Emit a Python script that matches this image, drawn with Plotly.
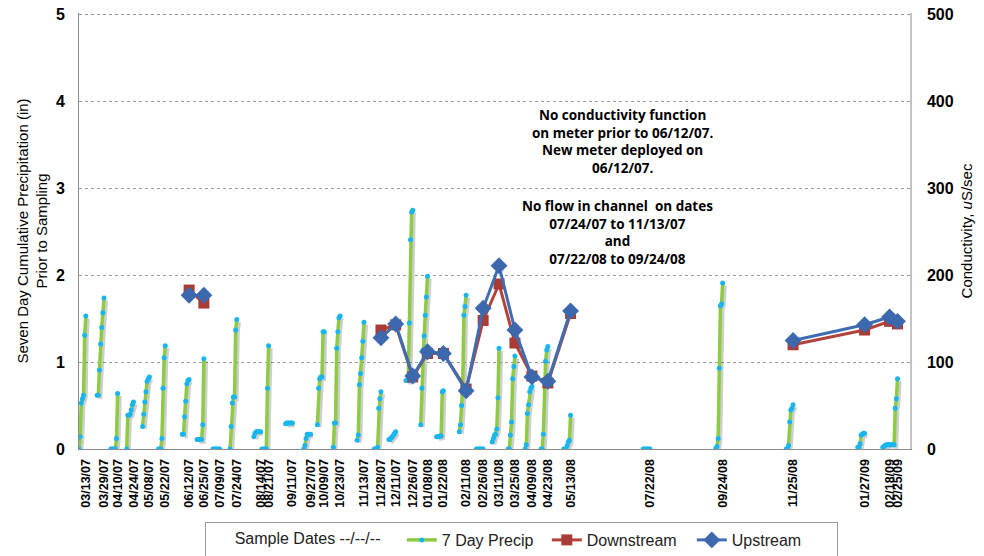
import pandas as pd
import plotly.graph_objects as go

# ---------------- data ----------------
sample_labels = ["03/13/07", "03/29/07", "04/10/07", "04/24/07", "05/08/07", "05/22/07",
                 "06/12/07", "06/25/07", "07/09/07", "07/24/07", "08/14/07", "08/21/07",
                 "09/11/07", "09/27/07", "10/09/07", "10/23/07", "11/13/07", "11/28/07",
                 "12/11/07", "12/26/07", "01/08/08", "01/22/08", "02/11/08", "02/26/08",
                 "03/11/08", "03/25/08", "04/09/08", "04/23/08", "05/13/08", "07/22/08",
                 "09/24/08", "11/25/08", "01/27/09", "02/18/09", "02/25/09"]

# cumulative 7-day precipitation (in), one value per sample, for each day before sampling
precip_day_minus6 = [0, 0.62, 0, 0, 0.26, 0, 0.17, 0.11, 0, 0, 0.14, 0, 0.29, 0, 0.28, 0.02, 0.10, 0,
                     0.11, 0.79, 0.28, 0.14, 0.20, 0, 0.08, 0, 0, 0, 0, 0, 0.01, 0, 0.02, 0.02, 0.05]
precip_day_minus5 = [0.14, 0.62, 0, 0.39, 0.40, 0, 0.17, 0.11, 0, 0.26, 0.18, 0, 0.30, 0.04, 0.70, 0.30, 0.16, 0,
                     0.11, 0.79, 0.70, 0.14, 0.28, 0, 0.12, 0, 0.05, 0, 0, 0, 0.03, 0.01, 0.02, 0.03, 0.05]
precip_day_minus4 = [0.53, 0.91, 0, 0.39, 0.54, 0, 0.37, 0.11, 0, 0.53, 0.20, 0, 0.30, 0.12, 0.81, 0.30, 0.74, 0,
                     0.13, 0.79, 1.14, 0.14, 0.50, 0, 0.16, 0.16, 0.41, 0.17, 0, 0, 0.12, 0.04, 0.06, 0.04, 0.05]
precip_day_minus3 = [0.58, 1.21, 0, 0.40, 0.66, 0.12, 0.55, 0.11, 0, 0.60, 0.20, 0, 0.30, 0.17, 0.83, 1.16, 0.87, 0.02,
                     0.14, 1.45, 1.30, 0.15, 0.72, 0, 0.17, 0.31, 0.51, 0.78, 0.04, 0, 0.93, 0.31, 0.16, 0.05, 0.05]
precip_day_minus2 = [0.62, 1.40, 0, 0.45, 0.78, 0.70, 0.75, 0.11, 0, 0.60, 0.20, 0, 0.30, 0.17, 0.83, 1.35, 1.05, 0.47,
                     0.16, 2.41, 1.54, 0.15, 1.54, 0, 0.23, 0.81, 0.66, 1.01, 0.08, 0, 1.65, 0.45, 0.17, 0.05, 0.47]
precip_day_minus1 = [1.31, 1.57, 0.12, 0.51, 0.81, 1.05, 0.79, 0.28, 0, 1.37, 0.20, 0.70, 0.30, 0.17, 1.35, 1.51, 1.24, 0.58,
                     0.18, 2.73, 1.75, 0.66, 1.64, 0, 0.59, 0.95, 0.70, 1.14, 0.10, 0, 1.67, 0.47, 0.18, 0.05, 0.58]
precip_day_0 = [1.53, 1.74, 0.64, 0.54, 0.83, 1.19, 0.80, 1.04, 0, 1.49, 0.20, 1.19, 0.30, 0.17, 1.35, 1.53, 1.46, 0.66,
                0.20, 2.75, 1.99, 0.67, 1.77, 0, 1.16, 1.07, 0.72, 1.18, 0.39, 0, 1.91, 0.51, 0.18, 0.05, 0.81]

# conductivity (uS/sec); None = not measured / no flow
downstream = [None, None, None, None, None, None, 183, 168, None, None, None, None, None, None, None, None, None,
              137, 143, 83, 110, 110, 69, 148, 190, 122, 84, 76, 156, None, None, 120, 137, 147, 144]
upstream = [None, None, None, None, None, None, 177, 177, None, None, None, None, None, None, None, None, None,
            128, 144, 84, 112, 110, 67, 162, 211, 137, 83, 78, 159, None, None, 125, 143, 152, 147]

left_ticks = [0, 1, 2, 3, 4, 5]
right_ticks = [0, 100, 200, 300, 400, 500]

# ---------------- build ----------------
dates = pd.to_datetime(sample_labels, format="%m/%d/%y")
day_cols = [precip_day_minus6, precip_day_minus5, precip_day_minus4, precip_day_minus3,
            precip_day_minus2, precip_day_minus1, precip_day_0]

px, py = [], []
for i, d in enumerate(dates):
    for k, col in enumerate(day_cols):
        px.append(d - pd.Timedelta(days=len(day_cols) - 1 - k))
        py.append(col[i])
    px.append(None)
    py.append(None)

x_start = pd.Timestamp("2007-03-07")
x_end = pd.Timestamp("2009-03-08")
shadow_shift = pd.Timedelta(hours=50)
y_top = 5.02      # a hair above 5 so the top gridline is drawn
y2_top = 502

FONT = "Arial, Liberation Sans, sans-serif"

fig = go.Figure()

# soft shadow of the precip line (base axes with slightly shifted ranges)
fig.add_trace(go.Scatter(x=px, y=py, mode="lines", xaxis="x", yaxis="y",
                         line=dict(color="rgba(60,60,60,0.25)", width=3.5),
                         showlegend=False, hoverinfo="skip", connectgaps=False))

fig.add_trace(go.Scatter(x=px, y=py, mode="lines+markers", name="7 Day Precip",
                         xaxis="x2", yaxis="y2", connectgaps=False,
                         line=dict(color="#8DCB45", width=3.5),
                         marker=dict(color="#19B6EE", size=5, line=dict(width=0))))

fig.add_trace(go.Scatter(x=dates, y=downstream, mode="lines+markers", name="Downstream",
                         xaxis="x2", yaxis="y3", connectgaps=False,
                         line=dict(color="#B3423B", width=3),
                         marker=dict(symbol="square", size=11, color="#A93C35")))

fig.add_trace(go.Scatter(x=dates, y=upstream, mode="lines+markers", name="Upstream",
                         xaxis="x2", yaxis="y3", connectgaps=False,
                         line=dict(color="#3E6DB2", width=3),
                         marker=dict(symbol="diamond", size=13, color="#3C68AD")))

fig.update_layout(
    width=984, height=556,
    margin=dict(l=79, r=74, t=13, b=107, autoexpand=False),
    paper_bgcolor="white", plot_bgcolor="white",
    font=dict(family=FONT, color="#000"),
    showlegend=True,
    xaxis=dict(type="date", range=[x_start - shadow_shift, x_end - shadow_shift], visible=False,
               showgrid=False, zeroline=False, automargin=False),
    yaxis=dict(range=[0.028, y_top + 0.028], visible=False, showgrid=False, zeroline=False,
               automargin=False),
    xaxis2=dict(type="date", overlaying="x", anchor="y2", range=[x_start, x_end], automargin=False,
                tickmode="array", tickvals=dates, ticktext=sample_labels, tickangle=-90,
                tickfont=dict(family=FONT, size=12.5, color="#000", weight="bold"),
                showgrid=False, zeroline=False, showline=True, linecolor="#8c8c8c", linewidth=1,
                ticks="", ticklabelstandoff=4),
    yaxis2=dict(overlaying="y", anchor="x2", side="left", range=[0, y_top], automargin=False,
                tickmode="array", tickvals=left_ticks, ticklabeloverflow="allow",
                tickfont=dict(family=FONT, size=16, color="#000", weight="bold"),
                showgrid=True, gridcolor="#9a9a9a", griddash="dot", gridwidth=1,
                zeroline=False, showline=True, linecolor="#8c8c8c", linewidth=1, ticks="",
                ticklabelstandoff=10,
                title=dict(text="Seven Day Cumulative Precipitation (in)<br>Prior to Sampling",
                           font=dict(family=FONT, size=15, color="#000"), standoff=4)),
    yaxis3=dict(overlaying="y", anchor="x2", side="right", range=[0, y2_top], automargin=False,
                tickmode="array", tickvals=right_ticks, ticklabeloverflow="allow",
                tickfont=dict(family=FONT, size=16, color="#000", weight="bold"),
                showgrid=False, zeroline=False, showline=True, linecolor="#c4c4c4", linewidth=1.5,
                ticks="", ticklabelstandoff=12,
                title=dict(text="Conductivity, <i>u</i>S/sec",
                           font=dict(family=FONT, size=15, color="#000"), standoff=9)),
    legend=dict(orientation="h", x=0.5325, xanchor="center", y=-0.2087, yanchor="middle",
                entrywidth=100,
                title=dict(text="&nbsp;&nbsp;&nbsp;&nbsp;&nbsp;&nbsp;Sample Dates --/--/--&nbsp;&nbsp;&nbsp;",
                           font=dict(family=FONT, size=16, color="#222")),
                font=dict(family=FONT, size=16, color="#222"),
                bordercolor="#9a9a9a", borderwidth=1, bgcolor="white"),
)

ann_font = dict(family="Open Sans, Lato, sans-serif", size=13.5, color="#000", weight="bold")
fig.add_annotation(xref="paper", yref="paper", x=0.6546, y=0.7064, xanchor="center", yanchor="middle",
                   showarrow=False,
                   text="No conductivity function<br>on meter prior to 06/12/07.<br>New meter deployed on<br>06/12/07.",
                   font=ann_font, align="center")
fig.add_annotation(xref="paper", yref="paper", x=0.6486, y=0.4966, xanchor="center", yanchor="middle",
                   showarrow=False,
                   text="No flow in channel&nbsp; on dates<br>07/24/07 to 11/13/07<br>and<br>07/22/08 to 09/24/08",
                   font=ann_font, align="center")

# remove the browser's default page margin so the figure fills the window exactly
fig.write_html("out.html", config={"displayModeBar": False},
               post_script="document.body.style.margin='0px';")
